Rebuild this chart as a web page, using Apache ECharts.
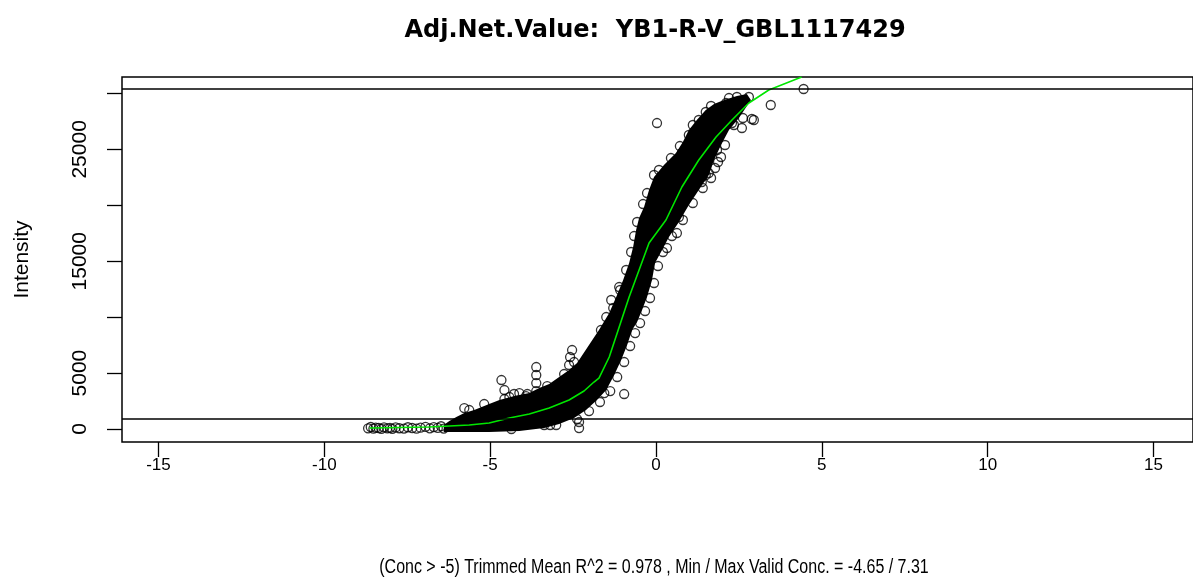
<!DOCTYPE html>
<html>
<head>
<meta charset="utf-8">
<script src="https://cdn.jsdelivr.net/npm/echarts@6/dist/echarts.min.js"></script>
<style>
  html, body { margin: 0; padding: 0; background: #fff; }
  #chart { width: 1193px; height: 586px; }
</style>
</head>
<body>
<div id="chart"></div>
<script>
const titleText = 'Adj.Net.Value:  YB1-R-V_GBL1117429';
const captionText = '(Conc > -5) Trimmed Mean R^2 = 0.978 , Min / Max Valid Conc. = -4.65 / 7.31';

const xTicks = [-15, -10, -5, 0, 5, 10, 15];
const yTicks = [0, 5000, 10000, 15000, 20000, 25000, 30000];
const yLabels = [0, 5000, 15000, 25000];
const hLines = [30400, 900];

// outline of the dense point cloud (upper edge, then back along lower edge)
const bandX = [-6.40, -6.23, -6.02, -5.78, -5.48, -5.03, -4.72, -4.27, -3.82, -3.52, -3.22, -2.92, -2.62, -2.38,
  -2.02, -1.72, -1.41, -1.20, -0.99, -0.81, -0.69, -0.60, -0.51, -0.36, -0.21, -0.06, 0.24, 0.60, 0.81,
  0.99, 1.23, 1.50, 1.75, 2.05, 2.44, 2.74,
  2.86, 2.50, 2.20, 1.96, 1.75, 1.59, 1.29, 0.99, 0.69, 0.39, 0.15, -0.03, -0.12, -0.27, -0.42, -0.57,
  -0.72, -0.87, -1.05, -1.26, -1.50, -1.78, -2.11, -2.47, -2.92, -3.37, -4.12, -5.03, -5.93, -6.40];
const bandY = [360, 715, 1073, 1430, 1699, 2235, 2593, 2950, 3218, 3665, 4023, 4649, 5275, 5900,
  7510, 8851, 10370, 11801, 13321, 14840, 16271, 17791, 18863, 19847, 21367, 22529, 23602, 24674, 25658,
  26731, 27625, 28519, 29055, 29413, 29770, 29949,
  29413, 27803, 26731, 25390, 24049, 22708, 21367, 20026, 18506, 17165, 15824, 14840, 13321, 11801, 10639, 9566,
  8851, 7510, 6169, 4828, 3487, 2593, 1699, 983, 447, 89, -179, -268, -268, -268];

// single points (sparse tail, cloud edges, outliers)
const ptX = [-8.68, -8.60, -8.52, -8.45, -8.36, -8.28, -8.20, -8.10, -8.02, -7.95, -7.85, -7.74, -7.60, -7.48,
  -7.35, -7.22, -7.10, -6.95, -6.82, -6.70, -6.58, -6.48, -6.40,
  -5.78, -4.66, -4.57, -4.57, -3.61, -3.61, -3.61, -3.61, -4.12, -4.36, -3.37, -3.19, -3.01, -2.32, -2.32,
  -1.56, -0.96, -2.53, -2.59, -2.62, -2.47, -1.35, -1.11, -1.66, -1.50, 0.03, 3.46, 4.45, 2.80, 2.89, 2.59,
  2.35, 2.95, 2.29, 1.96, 1.84, 1.50, 1.38, 1.38, 1.59, 1.66, 1.78, 0.33, 0.69, 0.63, -0.06, -0.06, 0.78,
  0.99, 1.29, 1.50, 2.11, 2.44, -4.28, -3.92,
  -1.87, -1.63, -1.29, -1.08, -0.90, -0.75, -0.66, -0.57, -0.39, -0.27, 0.09, 0.45, 0.72, 1.11, 1.66, 2.20,
  2.62, 2.08, 1.87, 1.41, 1.11, 0.81, 0.48, 0.21, 0.06, -0.06, -0.18, -0.33, -0.48, -0.63, -0.78, -0.96,
  -1.17, -1.38, -1.69, -2.02, -2.38,
  -5.63, -5.18, -4.42, -3.88, -3.28, -2.77];
const ptY = [60, 180, 30, 120, 90, 10, 150, 60, 110, 20, 140, 70, 40, 160,
  90, 30, 120, 200, 60, 170, 100, 250, 40,
  1877, 4381, 3487, 2682, 5543, 4828, 4112, 3397, 3218, 0, 358, 358, 358, 626, 89,
  3218, 3129, 7063, 6437, 5722, 5990, 11533, 12695, 8851, 10013, 27356, 28966, 30396, 29681, 27714, 26909,
  27178, 27625, 27356, 24317, 24943, 22708, 22082, 22529, 22886, 22440, 23333, 16181, 18953, 17522, 22708, 21098, 24674,
  26284, 27625, 28340, 29144, 29681, 3130, 2950,
  6884, 8314, 10817, 12427, 14215, 15824, 17254, 18506, 20115, 21098, 23155, 24227, 25300, 27178, 28876, 29591,
  27803, 25390, 23870, 21545, 20204, 18685, 17254, 15824, 14572, 13052, 11711, 10549, 9476, 8582, 7420, 5990,
  4649, 3397, 2414, 1609, 894,
  1699, 2235, 2861, 3129, 3844, 4917];

// fitted curve
const fitX = [-8.64, -6.83, -5.63, -5.03, -4.42, -3.82, -3.22, -2.62, -2.17, -1.87, -1.72, -1.41, -1.11, -0.81,
  -0.51, -0.21, 0.30, 0.78, 1.29, 1.81, 2.29, 2.80, 3.40, 4.39];
const fitY = [89, 179, 358, 536, 983, 1341, 1877, 2593, 3397, 4202, 4559, 6437, 9119, 11801,
  14215, 16628, 18685, 21635, 24049, 26105, 27625, 29144, 30307, 31469];

const bandData = bandX.map((x, i) => [x, bandY[i]]);
const ptData = ptX.map((x, i) => [x, ptY[i]]);
const fitData = fitX.map((x, i) => [x, fitY[i]]);

var myChart = echarts.init(document.getElementById('chart'));

var option = {
    animation: false,
    backgroundColor: '#fff',
    textStyle: {
        fontFamily: 'Liberation Sans',
    },
    title: {
        text: titleText,
        left: 650,
        textAlign: 'center',
        top: 14,
        textStyle: {
            fontFamily: 'DejaVu Sans',
            fontWeight: 'bold',
            fontSize: 24,
            color: '#000',
        },
    },
    graphic: [
        {
            type: 'text',
            x: 654,
            y: 567,
            scaleY: 1.25,
            style: {
                text: captionText,
                fontFamily: 'Liberation Sans',
                fontSize: 16,
                fill: '#000',
                align: 'center',
                verticalAlign: 'middle',
            },
        },
    ],
    grid: {
        left: 122,
        right: -2,
        top: 77,
        bottom: 144,
        show: true,
        borderColor: '#000',
        borderWidth: 1.5,
    },
    xAxis: {
        type: 'value',
        min: -16.1,
        max: 16.19,
        splitLine: { show: false },
        axisLine: { show: false, onZero: false },
        axisTick: {
            show: true,
            length: 15,
            customValues: xTicks,
            lineStyle: { color: '#000', width: 1.3 },
        },
        axisLabel: {
            customValues: xTicks,
            color: '#000',
            fontSize: 17,
            margin: 15,
        },
    },
    yAxis: {
        type: 'value',
        min: -1160,
        max: 31470,
        name: 'Intensity',
        nameLocation: 'middle',
        nameGap: 89,
        nameTextStyle: { color: '#000', fontSize: 21 },
        splitLine: { show: false },
        axisLine: { show: false, onZero: false },
        axisTick: {
            show: true,
            length: 15,
            customValues: yTicks,
            lineStyle: { color: '#000', width: 1.3 },
        },
        axisLabel: {
            customValues: yLabels,
            formatter: (v) => String(v),
            rotate: 90,
            color: '#000',
            fontSize: 21,
            margin: 31,
        },
    },
    series: [
        {
            type: 'custom',
            clip: true,
            silent: true,
            z: 1,
            renderItem: function (params, api) {
                if (params.dataIndex !== 0) return;
                const pts = bandData.map((d) => api.coord(d));
                return {
                    type: 'polygon',
                    shape: { points: pts },
                    style: { fill: '#000' },
                };
            },
            data: bandData,
        },
        {
            type: 'scatter',
            symbol: 'circle',
            symbolSize: 9,
            z: 2,
            itemStyle: {
                color: 'rgba(0,0,0,0)',
                borderColor: '#000',
                borderWidth: 1.3,
            },
            data: ptData,
        },
        {
            type: 'line',
            data: fitData,
            showSymbol: false,
            clip: true,
            z: 3,
            lineStyle: { color: '#00e600', width: 1.6 },
            markLine: {
                silent: true,
                symbol: 'none',
                label: { show: false },
                lineStyle: { color: '#000', width: 1.5, type: 'solid' },
                data: hLines.map((v) => ({ yAxis: v })),
            },
        },
    ],
};

myChart.setOption(option);
</script>
</body>
</html>
